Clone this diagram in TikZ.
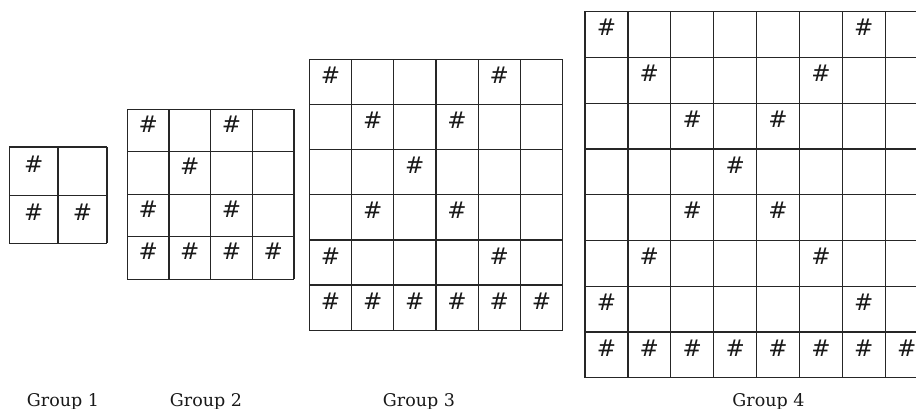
\documentclass[tikz,border=0pt]{standalone}
\usepackage{fontspec}
\setmainfont{Liberation Serif}
\newfontfamily\hashfont{DejaVu Sans}
\newfontfamily\labelfont{DejaVu Serif}
\begin{document}
\begin{tikzpicture}[x=1pt,y=-1pt,
  gridline/.style={draw=black!85,line width=1.35pt},
  hashmark/.style={inner sep=0pt,font=\hashfont\fontsize{23}{23}\selectfont,text=black!90},
  grouplabel/.style={anchor=base,inner sep=0pt,font=\labelfont\fontsize{17.5}{17.5}\selectfont,text=black!90}]
\useasboundingbox (0,0) rectangle (916,409);
\clip (0,0) rectangle (916,409);
\fill[white] (0,0) rectangle (916,409);
\foreach \g/\n/\xo/\yo/\cw/\ch in {1/2/9.3/147/48.8/48.2, 2/4/127.3/109.3/41.7/42.5, 3/6/309.3/59.3/42.23/45.17, 4/8/585/11.7/42.9/45.75}{
  % grid lines
  \foreach \i in {1,...,\n}{
    \draw[gridline] (\xo+\i*\cw,\yo) -- (\xo+\i*\cw,\yo+\n*\ch);
    \draw[gridline] (\xo,\yo+\i*\ch) -- (\xo+\n*\cw,\yo+\i*\ch);
  }
  \draw[gridline] (\xo,\yo+\n*\ch) -- (\xo,\yo) -- (\xo+\n*\cw,\yo);
  % hash marks on the two diagonals
  \pgfmathtruncatemacro\last{\n-1}
  \foreach \r in {1,...,\last}{
    \pgfmathtruncatemacro\other{\n-\r}
    \node[hashmark] (g\g-\r-\r) at (\xo+\r*\cw-0.5*\cw,\yo+\r*\ch-\ch+0.35*\ch) {\#};
    \ifnum\other=\r\else
      \node[hashmark] (g\g-\r-\other) at (\xo+\other*\cw-0.5*\cw,\yo+\r*\ch-\ch+0.35*\ch) {\#};
    \fi
  }
  % bottom row full
  \foreach \c in {1,...,\n}{
    \node[hashmark] (g\g-\n-\c) at (\xo+\c*\cw-0.5*\cw,\yo+\n*\ch-\ch+0.35*\ch) {\#};
  }
}
\node[grouplabel] (lab1) at (63,406) {Group 1};
\node[grouplabel] (lab2) at (206,406) {Group 2};
\node[grouplabel] (lab3) at (419,406) {Group 3};
\node[grouplabel] (lab4) at (768.5,406) {Group 4};
\end{tikzpicture}
\end{document}
